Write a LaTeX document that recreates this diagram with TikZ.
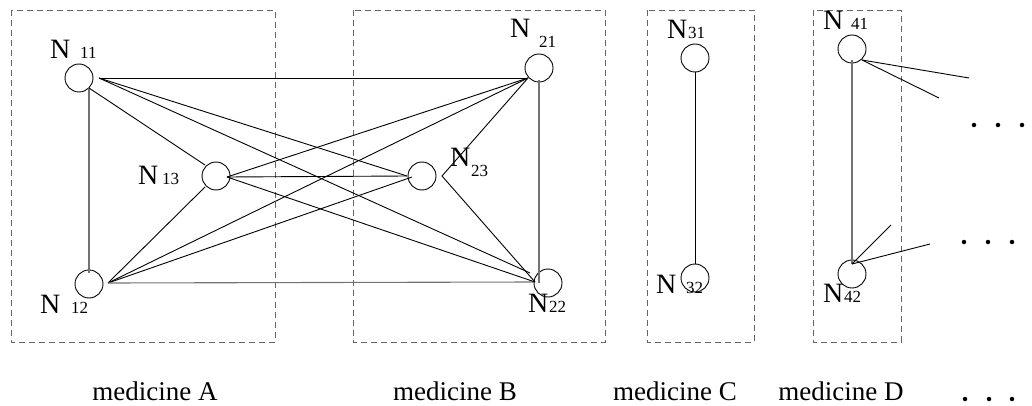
\documentclass[tikz,border=0pt]{standalone}
\usepackage{fontspec}
\setmainfont{Liberation Serif}
\usetikzlibrary{calc}
\begin{document}
\begin{tikzpicture}[x=1pt,y=-1pt,
 nd/.style={circle,draw,minimum size=28pt,inner sep=0pt,line width=0.9pt},
 grp/.style={draw=black!60,dash pattern=on 6pt off 4pt,line width=0.9pt},
 ln/.style={line width=0.9pt},
 gln/.style={line width=1.1pt,draw=black!55},
 bigN/.style={inner sep=0pt,anchor=base west,font=\fontsize{28}{30}\selectfont},
 subtxt/.style={inner sep=0pt,anchor=base west,font=\fontsize{17}{20}\selectfont},
 captxt/.style={inner sep=0pt,anchor=base,font=\fontsize{27}{30}\selectfont},
 dotmark/.style={circle,fill,inner sep=0pt,minimum size=4.5pt}]
\useasboundingbox (0,0) rectangle (1032,406);
% groups
\draw[grp] (11,10) rectangle (275,342);
\draw[grp] (353,10) rectangle (605,342);
\draw[grp] (647,10) rectangle (754,342);
\draw[grp] (813,10) rectangle (901,342);
% nodes
\node[nd] (N11) at (79,78) {};
\node[nd] (N12) at (89,284) {};
\node[nd] (N13) at (216,176) {};
\node[nd] (N23) at (422,176) {};
\node[nd] (N21) at (539,68) {};
\node[nd] (N22) at (548,283) {};
\node[nd] (N31) at (695,58) {};
\node[nd] (N32) at (695,278) {};
\node[nd] (N41) at (852,49) {};
\node[nd] (N42) at (852,274) {};
% labels
\node[bigN] (L11) at (50,59) {N}; \node[subtxt] (S11) at (80,59) {11};
\node[bigN] (L12) at (40,313) {N}; \node[subtxt] (S12) at (71,313) {12};
\node[bigN] (L13) at (138,185) {N}; \node[subtxt] (S13) at (162,185) {13};
\node[bigN] (L21) at (510,38) {N}; \node[subtxt] (S21) at (539,48) {21};
\node[bigN] (L23) at (450,167) {N}; \node[subtxt] (S23) at (471,176) {23};
\node[bigN] (L22) at (528,312) {N}; \node[subtxt] (S22) at (549,312) {22};
\node[bigN] (L31) at (667,39) {N}; \node[subtxt] (S31) at (688,39) {31};
\node[bigN] (L32) at (656,293) {N}; \node[subtxt] (S32) at (686,293) {32};
\node[bigN] (L41) at (823,30) {N}; \node[subtxt] (S41) at (851,30) {41};
\node[bigN] (L42) at (823,302) {N}; \node[subtxt] (S42) at (844,302) {42};
% edges
\draw[ln] ($(N11)+(20,0)$) -- ($(N21)+(-11,10)$);
\draw[ln] ($(N11)+(20,0)$) -- ($(N23)+(-15,0)$);
\draw[ln] ($(N11)+(20,0)$) -- ($(N22)+(-18,-10)$);
\draw[gln] ($(N11)+(10,10)$) -- ($(N12)+(0,-11)$);
\draw[ln] ($(N11)+(10,10)$) -- ($(N13)+(-11,-11)$);
\draw[ln] ($(N12)+(19,-1)$) -- ($(N13)+(-11,11)$);
\draw[ln] ($(N12)+(19,-1)$) -- ($(N21)+(-11,10)$);
\draw[ln] ($(N12)+(19,-1)$) -- ($(N23)+(-10,1)$);
\draw[gln] ($(N12)+(19,-1)$) -- ($(N22)+(-13,-1)$);
\draw[ln] ($(N13)+(11,1)$) -- ($(N23)+(-15,0)$);
\draw[ln] ($(N13)+(11,1)$) -- ($(N21)+(-11,10)$);
\draw[ln] ($(N13)+(11,1)$) -- ($(N22)+(-13,-1)$);
\draw[ln] ($(N21)+(-11,10)$) -- ($(N23)+(20,0)$) -- ($(N22)+(-13,-1)$);
\draw[gln] ($(N21)+(0,12)$) -- ($(N22)+(-9,0)$);
\draw[ln] ($(N31)+(0,14)$) -- ($(N32)+(0,-14)$);
\draw[gln] ($(N41)+(0,11)$) -- ($(N42)+(0,-10)$);
\coordinate (e1) at (969,78);
\coordinate (e2) at (939,98);
\coordinate (e3) at (891,225);
\coordinate (e4) at (930,244);
\draw[ln] ($(N41)+(10,11)$) -- (e1);
\draw[ln] ($(N41)+(10,11)$) -- (e2);
\draw[ln] ($(N42)+(0,-10)$) -- (e3);
\draw[ln] ($(N42)+(0,-10)$) -- (e4);
% dots
\node[dotmark] (d1) at (974,125) {}; \node[dotmark] (d2) at (998,125) {}; \node[dotmark] (d3) at (1022,125) {};
\node[dotmark] (d4) at (964,242) {}; \node[dotmark] (d5) at (988,242) {}; \node[dotmark] (d6) at (1012,242) {};
\node[dotmark] (d7) at (965,399) {}; \node[dotmark] (d8) at (989,399) {}; \node[dotmark] (d9) at (1012,399) {};
% captions
\node[captxt] (cA) at (155,400) {medicine A};
\node[captxt] (cB) at (455,400) {medicine B};
\node[captxt] (cC) at (675,400) {medicine C};
\node[captxt] (cD) at (841,400) {medicine D};
\end{tikzpicture}
\end{document}
